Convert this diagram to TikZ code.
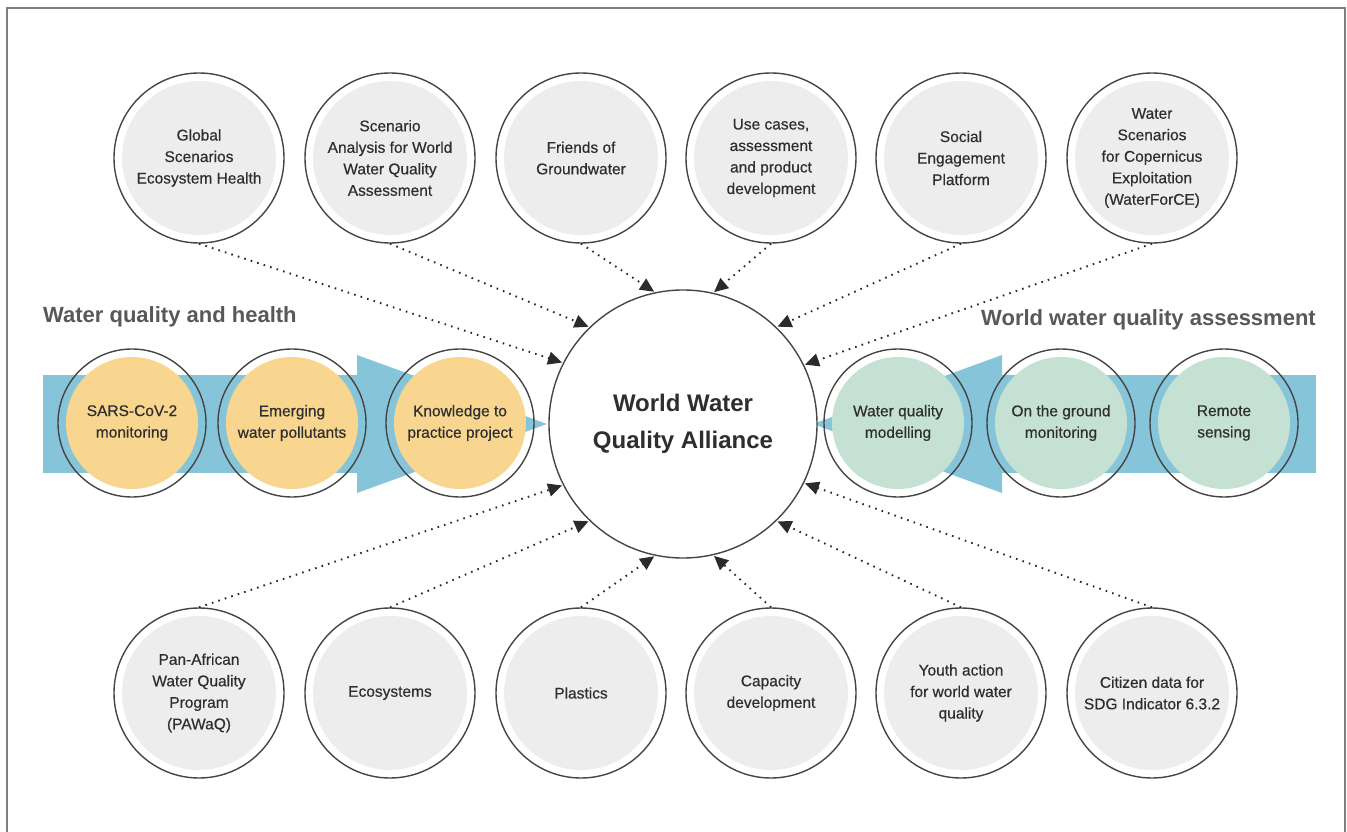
\documentclass[tikz,border=0pt]{standalone}
\usepackage{fontspec}
\setmainfont{Liberation Sans}
\newfontfamily\medfont[FakeBold=0.45]{Liberation Sans}
\usetikzlibrary{arrows.meta}
\definecolor{ringc}{HTML}{454545}
\definecolor{grayfill}{HTML}{EDEDED}
\definecolor{yelfill}{HTML}{F9D68F}
\definecolor{grnfill}{HTML}{C4E1D3}
\definecolor{bandc}{HTML}{86C4D9}
\definecolor{txtc}{HTML}{2E2E2E}
\definecolor{headc}{HTML}{585858}
\definecolor{framec}{HTML}{7F7F7F}
\definecolor{arrc}{HTML}{2B2B2B}
\tikzset{
  x=1pt, y=-1pt,
  bigring/.style={circle, draw=ringc, line width=1.4pt, minimum size=170pt, inner sep=0pt,
    align=center, text=txtc, font=\medfont\fontsize{15.5}{21.5}\selectfont,
    path picture={\fill[grayfill] (path picture bounding box.center) circle (77pt);}},
  yelring/.style={circle, draw=ringc, line width=1.4pt, minimum size=148pt, inner sep=0pt,
    align=center, text=txtc, font=\medfont\fontsize{15.5}{21.5}\selectfont,
    path picture={\fill[yelfill] (path picture bounding box.center) circle (66pt);}},
  grnring/.style={circle, draw=ringc, line width=1.4pt, minimum size=148pt, inner sep=0pt,
    align=center, text=txtc, font=\medfont\fontsize{15.5}{21.5}\selectfont,
    path picture={\fill[grnfill] (path picture bounding box.center) circle (66pt);}},
  hub/.style={circle, draw=ringc, fill=white, line width=1.4pt, minimum size=268pt, inner sep=0pt,
    align=center, text=txtc, font=\fontsize{24}{37}\selectfont\bfseries},
  sectionhead/.style={text=headc, font=\fontsize{22}{26}\selectfont\bfseries, inner sep=0pt},
  dotarrow/.style={draw=arrc, line width=1.9pt, dash pattern=on 1.6pt off 5.2pt,
    -{Triangle[length=14pt,width=13pt,fill=arrc,sep=0pt]}, shorten >=1pt},
  bandfill/.style={fill=bandc}
}
\begin{document}
\begin{tikzpicture}
\useasboundingbox (0,0) rectangle (1347,832);
% frame
\draw[framec, line width=1.5pt] (7,845) -- (7,8) -- (1345,8) -- (1345,845);

% bands
\fill[bandfill] (43,375) rectangle (357,473);
\fill[bandfill] (357,355) -- (547,424) -- (357,493) -- cycle;
\fill[bandfill] (1002,375) rectangle (1316,473);
\fill[bandfill] (1002,355) -- (813,424) -- (1002,493) -- cycle;

% hub
\node[hub] (cen) at (683,424) {World Water\\Quality Alliance};

% top row
\node[bigring] (t1) at (199,158) {Global\\Scenarios\\Ecosystem Health};
\node[bigring] (t2) at (390,158) {Scenario\\Analysis for World\\Water Quality\\Assessment};
\node[bigring] (t3) at (581,158) {Friends of\\Groundwater};
\node[bigring] (t4) at (771,158) {Use cases,\\assessment\\and product\\development};
\node[bigring] (t5) at (961,158) {Social\\Engagement\\Platform};
\node[bigring] (t6) at (1152,158) {Water\\Scenarios\\for Copernicus\\Exploitation\\(WaterForCE)};

% bottom row
\node[bigring] (b1) at (199,693) {Pan-African\\Water Quality\\Program\\(PAWaQ)};
\node[bigring] (b2) at (390,693) {Ecosystems};
\node[bigring] (b3) at (581,693) {Plastics};
\node[bigring] (b4) at (771,693) {Capacity\\development};
\node[bigring] (b5) at (961,693) {Youth action\\for world water\\quality};
\node[bigring] (b6) at (1152,693) {Citizen data for\\SDG Indicator 6.3.2};

% middle rows
\node[yelring] (l1) at (132,423) {SARS-CoV-2\\monitoring};
\node[yelring] (l2) at (292,423) {Emerging\\water pollutants};
\node[yelring] (l3) at (460,423) {Knowledge to\\practice project};
\node[grnring] (r1) at (898,423) {Water quality\\modelling};
\node[grnring] (r2) at (1061,423) {On the ground\\monitoring};
\node[grnring] (r3) at (1224,423) {Remote\\sensing};

% headings
\node[sectionhead, anchor=west] (hl) at (43,317) {Water quality and health};
\node[sectionhead, anchor=east] (hr) at (1316,320) {World water quality assessment};

% connectors
\draw[dotarrow] (t1.south) -- (cen.153);
\draw[dotarrow] (t2.south) -- (cen.134);
\draw[dotarrow] (t3.south) -- (cen.102);
\draw[dotarrow] (t4.south) -- (cen.77);
\draw[dotarrow] (t5.south) -- (cen.46);
\draw[dotarrow] (t6.south) -- (cen.26);
\draw[dotarrow] (b1.north) -- (cen.207);
\draw[dotarrow] (b2.north) -- (cen.226);
\draw[dotarrow] (b3.north) -- (cen.258);
\draw[dotarrow] (b4.north) -- (cen.283);
\draw[dotarrow] (b5.north) -- (cen.314);
\draw[dotarrow] (b6.north) -- (cen.334);
\end{tikzpicture}
\end{document}
